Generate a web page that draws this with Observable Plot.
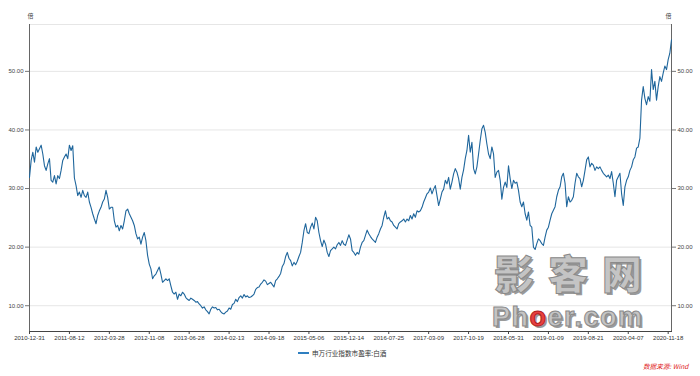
<!DOCTYPE html>
<html><head><meta charset="utf-8">
<script src="https://cdn.jsdelivr.net/npm/d3@7"></script>
<script src="https://cdn.jsdelivr.net/npm/@observablehq/plot@0.6"></script>
<style>
body{margin:0;background:#fff;font-family:"Noto Sans CJK SC","DejaVu Sans",sans-serif;}
#wrap{position:relative;width:700px;height:376px;overflow:hidden;}
#legend{position:absolute;left:298px;top:348px;font-size:6.6px;color:#333;display:flex;align-items:center;white-space:nowrap;}
#legend .sw{display:inline-block;width:11px;height:2px;background:#2f7fc0;margin-right:3px;}
#caption{position:absolute;left:643px;top:361px;font-size:6.6px;color:#e02020;font-style:italic;white-space:nowrap;}
.wm1{position:absolute;left:494px;top:252px;height:40px;font-size:40px;font-weight:900;color:#c4c4c4;letter-spacing:14px;-webkit-text-stroke:1px #8a8a8a;text-shadow:2px 2px 0 #9a9a9a;font-family:"Noto Sans CJK SC",sans-serif;line-height:40px;}
.wm2{position:absolute;left:492px;top:305px;height:24px;font-size:27px;font-weight:bold;letter-spacing:1.5px;color:#c4c4c4;-webkit-text-stroke:1px #8a8a8a;text-shadow:2px 2px 0 #9a9a9a;font-family:"Liberation Sans",Arial,sans-serif;line-height:24px;}
.wm2 .o{color:#e84040;-webkit-text-stroke:1px #b02020;}
</style></head>
<body><div id="wrap"><div id="chart"></div>
<div class="wm1">影客网</div>
<div class="wm2">Ph<span class="o">o</span>er.com</div>
<div id="legend"><span class="sw"></span><span id="legtext"></span></div>
<div id="caption"></div>
</div>
<script>
const seriesName = "申万行业指数市盈率:白酒";
const unitLabel = "倍";
const sourceNote = "数据来源: Wind";
const tickDates = ["2010-12-31","2011-08-12","2012-03-28","2012-11-08","2013-06-28","2014-02-13","2014-09-18","2015-05-06","2015-12-14","2016-07-25","2017-03-09","2017-10-19","2018-05-31","2019-01-09","2019-08-21","2020-04-07","2020-11-18"];
const samplesPerTick = 24;
const yTicks = [10, 20, 30, 40, 50];
const pe2011_2013 = [31.9,34.8,36.2,34.5,37.1,36.2,36.8,37.4,35.9,33.9,
33.1,34.2,35.1,31.4,31.1,32.2,30.8,32.2,31.7,33.1,
34.8,35.4,35.9,35.1,37.4,36.5,37.3,31.8,30.5,28.8,
29.4,28.5,29.7,28.8,28.5,29.4,27.7,26.8,25.7,24.8,
24.0,25.4,26.2,26.8,27.7,28.2,29.7,28.5,26.5,26.8,
26.8,24.5,23.4,23.7,22.8,23.7,23.1,24.5,26.2,26.5,
25.7,25.1,24.5,23.7,22.3,21.4,21.7,20.5,21.7,22.5,
21.1,18.6,17.1,16.3,14.6,15.1,15.4,16.0,16.6,15.4,
14.0,14.3,14.6,14.3,14.6,13.4,12.3,12.0,12.3,11.1,
12.0,11.7,12.3,12.0,11.4,11.1,10.9];
const pe2013_2016 = [11.3,11.1,10.9,10.6,10.7,10.3,10.0,9.6,9.8,9.3,
9.0,8.6,9.4,9.8,9.6,9.7,9.3,9.4,9.0,8.7,
8.6,8.9,9.1,9.6,9.4,10.2,10.4,11.1,10.7,11.4,
11.7,11.3,11.9,11.5,11.7,11.4,11.5,11.7,12.0,12.8,
13.1,13.2,13.7,14.0,14.4,14.2,13.6,13.8,14.0,13.6,
13.2,14.3,14.6,15.0,15.5,16.7,17.2,18.4,19.1,18.1,
17.7,16.8,17.4,17.0,17.6,18.4,19.1,20.8,22.8,24.0,
22.5,22.3,23.4,24.1,23.1,25.1,24.5,22.5,21.1,20.1,
21.2,20.5,19.1,18.4,19.4,19.7,20.0,19.7,20.4,20.8,
20.3,21.1,20.5,20.3,21.2,22.1];
const pe2016_2018 = [21.4,19.4,19.1,18.6,19.1,18.8,20.0,20.8,21.1,22.0,
22.9,22.3,21.8,21.4,21.1,20.8,21.7,22.3,23.1,23.7,
25.1,26.2,24.8,25.1,24.5,24.3,23.7,23.4,23.1,24.0,
24.3,24.5,24.8,24.3,24.8,24.5,25.4,24.8,25.7,25.1,
26.2,26.0,26.2,26.8,27.7,28.4,29.1,29.4,30.1,29.1,
29.9,30.5,28.8,27.1,28.2,29.4,29.9,31.4,30.8,31.9,
29.9,31.1,32.5,33.4,32.8,31.7,29.9,31.9,33.2,35.1,
36.5,39.1,36.2,37.9,33.4,32.5,33.7,35.9,38.2,40.2,
40.8,39.6,37.6,35.9,35.1,37.1,35.9,31.9,32.8,33.1,
31.4,28.2,30.2,31.1,30.2,33.9,31.7];
const pe2018_2020 = [30.0,31.4,30.9,31.1,29.7,27.7,26.9,27.7,25.7,24.6,
26.0,23.7,23.4,20.0,19.6,20.6,21.4,21.1,20.6,20.3,
21.7,22.9,23.4,24.6,25.7,26.3,26.9,28.6,29.7,30.3,
32.0,32.6,30.9,26.9,28.6,27.7,28.0,28.6,30.9,32.6,
32.0,31.7,30.3,31.4,33.1,34.9,35.4,33.7,34.3,34.0,
33.1,33.7,33.4,33.7,33.1,32.6,32.3,32.0,32.3,31.7,
32.9,30.9,28.6,31.4,32.0,32.6,29.1,27.1,30.3,31.4,
32.0,33.1,33.7,34.9,35.4,36.9,37.1,38.6,45.1,47.4,
45.4,44.3,45.7,44.9,50.3,46.9,48.3,45.1,47.4,49.1,
48.3,49.7,50.9,50.3,52.0,53.1,55.4];

const values = [...pe2011_2013, ...pe2013_2016, ...pe2016_2018, ...pe2018_2020];
const data = values.map((v, i) => ({i, v}));
const tickIndex = tickDates.map((d, k) => k * samplesPerTick);
const labelByIndex = new Map(tickIndex.map((t, k) => [t, tickDates[k]]));
const yMin = 5.6, yMax = 58.0;

const chart = Plot.plot({
  width: 700,
  height: 345,
  marginLeft: 29,
  marginRight: 29,
  marginTop: 24,
  marginBottom: 14,
  style: {fontFamily: "'Liberation Sans', Arial, sans-serif", background: "#fff", overflow: "visible"},
  x: {domain: [0, values.length - 1], axis: null},
  y: {domain: [yMin, yMax], axis: null},
  marks: [
    Plot.ruleY([...yTicks, yMax], {stroke: "#e6e6e6", strokeWidth: 1}),
    Plot.axisY(yTicks, {anchor: "left", tickFormat: d3.format(".2f"), tickSize: 4, tickPadding: 2, fontSize: 6, stroke: "#777", fill: "#444", label: null}),
    Plot.axisY(yTicks, {anchor: "right", tickFormat: d3.format(".2f"), tickSize: 4, tickPadding: 2, fontSize: 6, stroke: "#777", fill: "#444", label: null}),
    Plot.axisX(tickIndex, {anchor: "bottom", tickFormat: d => labelByIndex.get(d), tickSize: 3, tickPadding: 1, fontSize: 6, stroke: "#444", fill: "#333", label: null}),
    Plot.frame({anchor: "left", stroke: "#666"}),
    Plot.frame({anchor: "right", stroke: "#666"}),
    Plot.frame({anchor: "bottom", stroke: "#444"}),
    Plot.text([unitLabel], {frameAnchor: "top-left", dy: -11, dx: -2, fontSize: 6, fill: "#444", fontFamily: "Noto Sans CJK SC"}),
    Plot.text([unitLabel], {frameAnchor: "top-right", dy: -11, dx: 0, fontSize: 6, fill: "#444", fontFamily: "Noto Sans CJK SC"}),
    Plot.line(data, {x: "i", y: "v", stroke: "#1f669c", strokeWidth: 1.1})
  ]
});
document.getElementById("chart").appendChild(chart);
document.getElementById("legtext").textContent = seriesName;
document.getElementById("caption").textContent = sourceNote;
</script>
</body></html>
